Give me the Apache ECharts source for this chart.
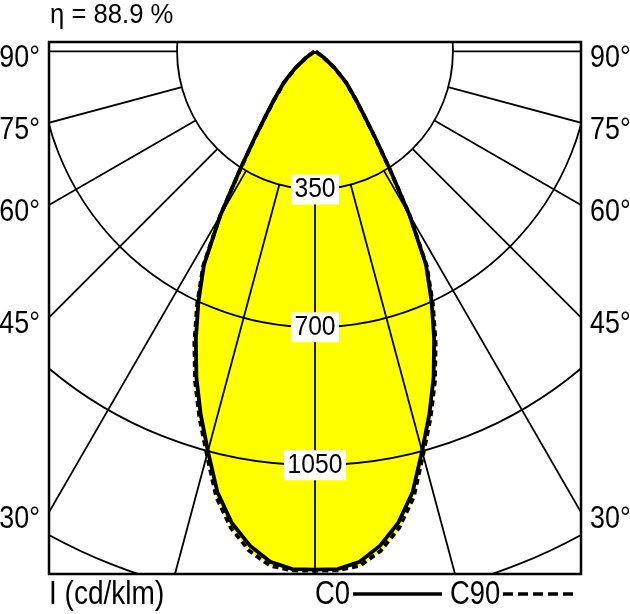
<!DOCTYPE html>
<html>
<head>
<meta charset="utf-8">
<script src="https://cdn.jsdelivr.net/npm/echarts@6/dist/echarts.min.js"></script>
<style>
  html, body { margin: 0; padding: 0; background: #fff; }
  #chart { width: 630px; height: 614px; }
</style>
</head>
<body>
<div id="chart"></div>
<script>
// gamma angles (deg from nadir) and intensities in cd/klm
const angles = [0, 2.5, 5, 7.5, 10, 12.5, 15, 17.5, 20, 22.5, 25, 27.5, 30, 32.5, 35, 37.5, 40, 45, 50, 55, 60, 65, 70, 75, 80, 85, 90];
const c0 = [1315, 1315, 1300, 1265, 1215, 1145, 1050, 965, 880, 790, 700, 610, 480, 352, 265, 205, 165, 112, 65, 28, 10, 4, 2, 2, 2, 2, 2];
const c90 = [1318, 1318, 1310, 1278, 1228, 1158, 1060, 975, 890, 800, 708, 615, 482, 350, 262, 203, 163, 110, 63, 26, 9, 3, 2, 2, 2, 2, 2];

// polar grid
const rings = [350, 700, 1050, 1400];
const ringLabels = ['350', '700', '1050'];
const rays = [0, 15, 30, 45, 60, 75, 90];
const degLabels = [30, 45, 60, 75, 90];

const etaText = 'η = 88.9 %';
const unitText = 'I (cd/klm)';
const planeNames = ['C0', 'C90'];

const xMax = 675;
const font = '"Liberation Sans", Arial, sans-serif';

function toXY(deg, r) {
    const a = deg * Math.PI / 180;
    return [r * Math.sin(a), -r * Math.cos(a)];
}

// both halves of a C plane, from left 90° through nadir to right 90°
function outline(values) {
    const pts = [];
    for (let i = angles.length - 1; i >= 0; i--) pts.push(toXY(-angles[i], values[i]));
    for (let i = 1; i < angles.length; i++) pts.push(toXY(angles[i], values[i]));
    return pts;
}

// narrow text, the drawing uses a condensed face
function narrowText(x, y, text, size, align, sx) {
    return {
        type: 'text', x: x, y: y, scaleX: sx, silent: true,
        style: { text: text, x: 0, y: 0, font: size + 'px ' + font, fill: '#000', align: align, verticalAlign: 'middle' }
    };
}

const chart = echarts.init(document.getElementById('chart'));

chart.setOption({
    animation: false,
    graphic: [
        narrowText(50, 16, etaText, 27, 'left', 0.95),
        narrowText(49, 595, unitText, 33, 'left', 0.85),
        narrowText(315, 595, planeNames[0], 33, 'left', 0.83),
        { type: 'line', silent: true, shape: { x1: 353, y1: 594, x2: 442, y2: 594 }, style: { stroke: '#000', lineWidth: 3.5 } },
        narrowText(450, 595, planeNames[1], 33, 'left', 0.83),
        { type: 'line', silent: true, shape: { x1: 503, y1: 594, x2: 578, y2: 594 }, style: { stroke: '#000', lineWidth: 3.5, lineDash: [10, 5] } }
    ],
    grid: { left: 49, right: 49, top: 42, bottom: 40, show: true, borderColor: '#000', borderWidth: 2.5 },
    xAxis: { type: 'value', min: -xMax, max: xMax, show: false },
    yAxis: { type: 'value', min: -1326, max: 24, show: false },
    series: [
        {
            // yellow light distribution area
            type: 'custom',
            z: 1,
            silent: true,
            data: [[0, 0]],
            renderItem: function (params, api) {
                return {
                    type: 'group',
                    children: [c90, c0].map(function (vals) {
                        return {
                            type: 'polygon',
                            shape: { points: outline(vals).map(function (p) { return api.coord(p); }) },
                            style: { fill: '#ffff00', stroke: null }
                        };
                    })
                };
            }
        },
        {
            // rings and rays
            type: 'custom',
            z: 2,
            clip: true,
            silent: true,
            data: [[0, 0]],
            renderItem: function (params, api) {
                const c = api.coord([0, 0]);
                const cs = params.coordSys;
                const children = [];
                rings.forEach(function (r) {
                    children.push({
                        type: 'circle',
                        shape: { cx: c[0], cy: c[1], r: api.size([r, 0])[0] },
                        style: { fill: null, stroke: '#000', lineWidth: 1.8 }
                    });
                });
                rays.forEach(function (a) {
                    [-1, 1].forEach(function (s) {
                        if (a === 0 && s < 0) return;
                        const p1 = api.coord(toXY(s * a, rings[0]));
                        const p2 = api.coord(toXY(s * a, 3000));
                        children.push({
                            type: 'line',
                            shape: { x1: p1[0], y1: p1[1], x2: p2[0], y2: p2[1] },
                            style: { stroke: '#000', lineWidth: 1.8 }
                        });
                    });
                });
                return {
                    type: 'group',
                    clipPath: { type: 'rect', shape: { x: cs.x, y: cs.y, width: cs.width, height: cs.height } },
                    children: children
                };
            }
        },
        {
            name: planeNames[0],
            type: 'custom',
            z: 4,
            silent: true,
            data: [[0, 0]],
            renderItem: function (params, api) {
                return {
                    type: 'polyline',
                    shape: { points: outline(c0).map(function (p) { return api.coord(p); }) },
                    style: { fill: null, stroke: '#000', lineWidth: 3.8, lineJoin: 'miter' }
                };
            }
        },
        {
            name: planeNames[1],
            type: 'custom',
            z: 3,
            silent: true,
            data: [[0, 0]],
            renderItem: function (params, api) {
                return {
                    type: 'polyline',
                    shape: { points: outline(c90).map(function (p) { return api.coord(p); }) },
                    style: { fill: null, stroke: '#000', lineWidth: 3.8, lineDash: [6, 4] }
                };
            }
        },
        {
            // ring values and angle labels
            type: 'custom',
            z: 5,
            silent: true,
            data: [[0, 0]],
            renderItem: function (params, api) {
                const children = [];
                ringLabels.forEach(function (t, i) {
                    const p = api.coord([0, -rings[i]]);
                    children.push({
                        type: 'text', x: p[0], y: p[1], scaleX: 0.88,
                        style: {
                            text: t, x: 0, y: 0, align: 'center', verticalAlign: 'middle',
                            font: '28px ' + font, fill: '#000', backgroundColor: '#fff', padding: [2, 4, 0, 4]
                        }
                    });
                });
                degLabels.forEach(function (a) {
                    const yv = a === 90 ? 0 : -xMax / Math.tan(a * Math.PI / 180);
                    const pl = api.coord([-xMax, yv]);
                    const pr = api.coord([xMax, yv]);
                    children.push(narrowText(pl[0] - 9, pl[1] + 7, a + '°', 32, 'right', 0.84));
                    children.push(narrowText(pr[0] + 9, pr[1] + 7, a + '°', 32, 'left', 0.84));
                });
                return { type: 'group', children: children };
            }
        }
    ]
});
</script>
</body>
</html>
